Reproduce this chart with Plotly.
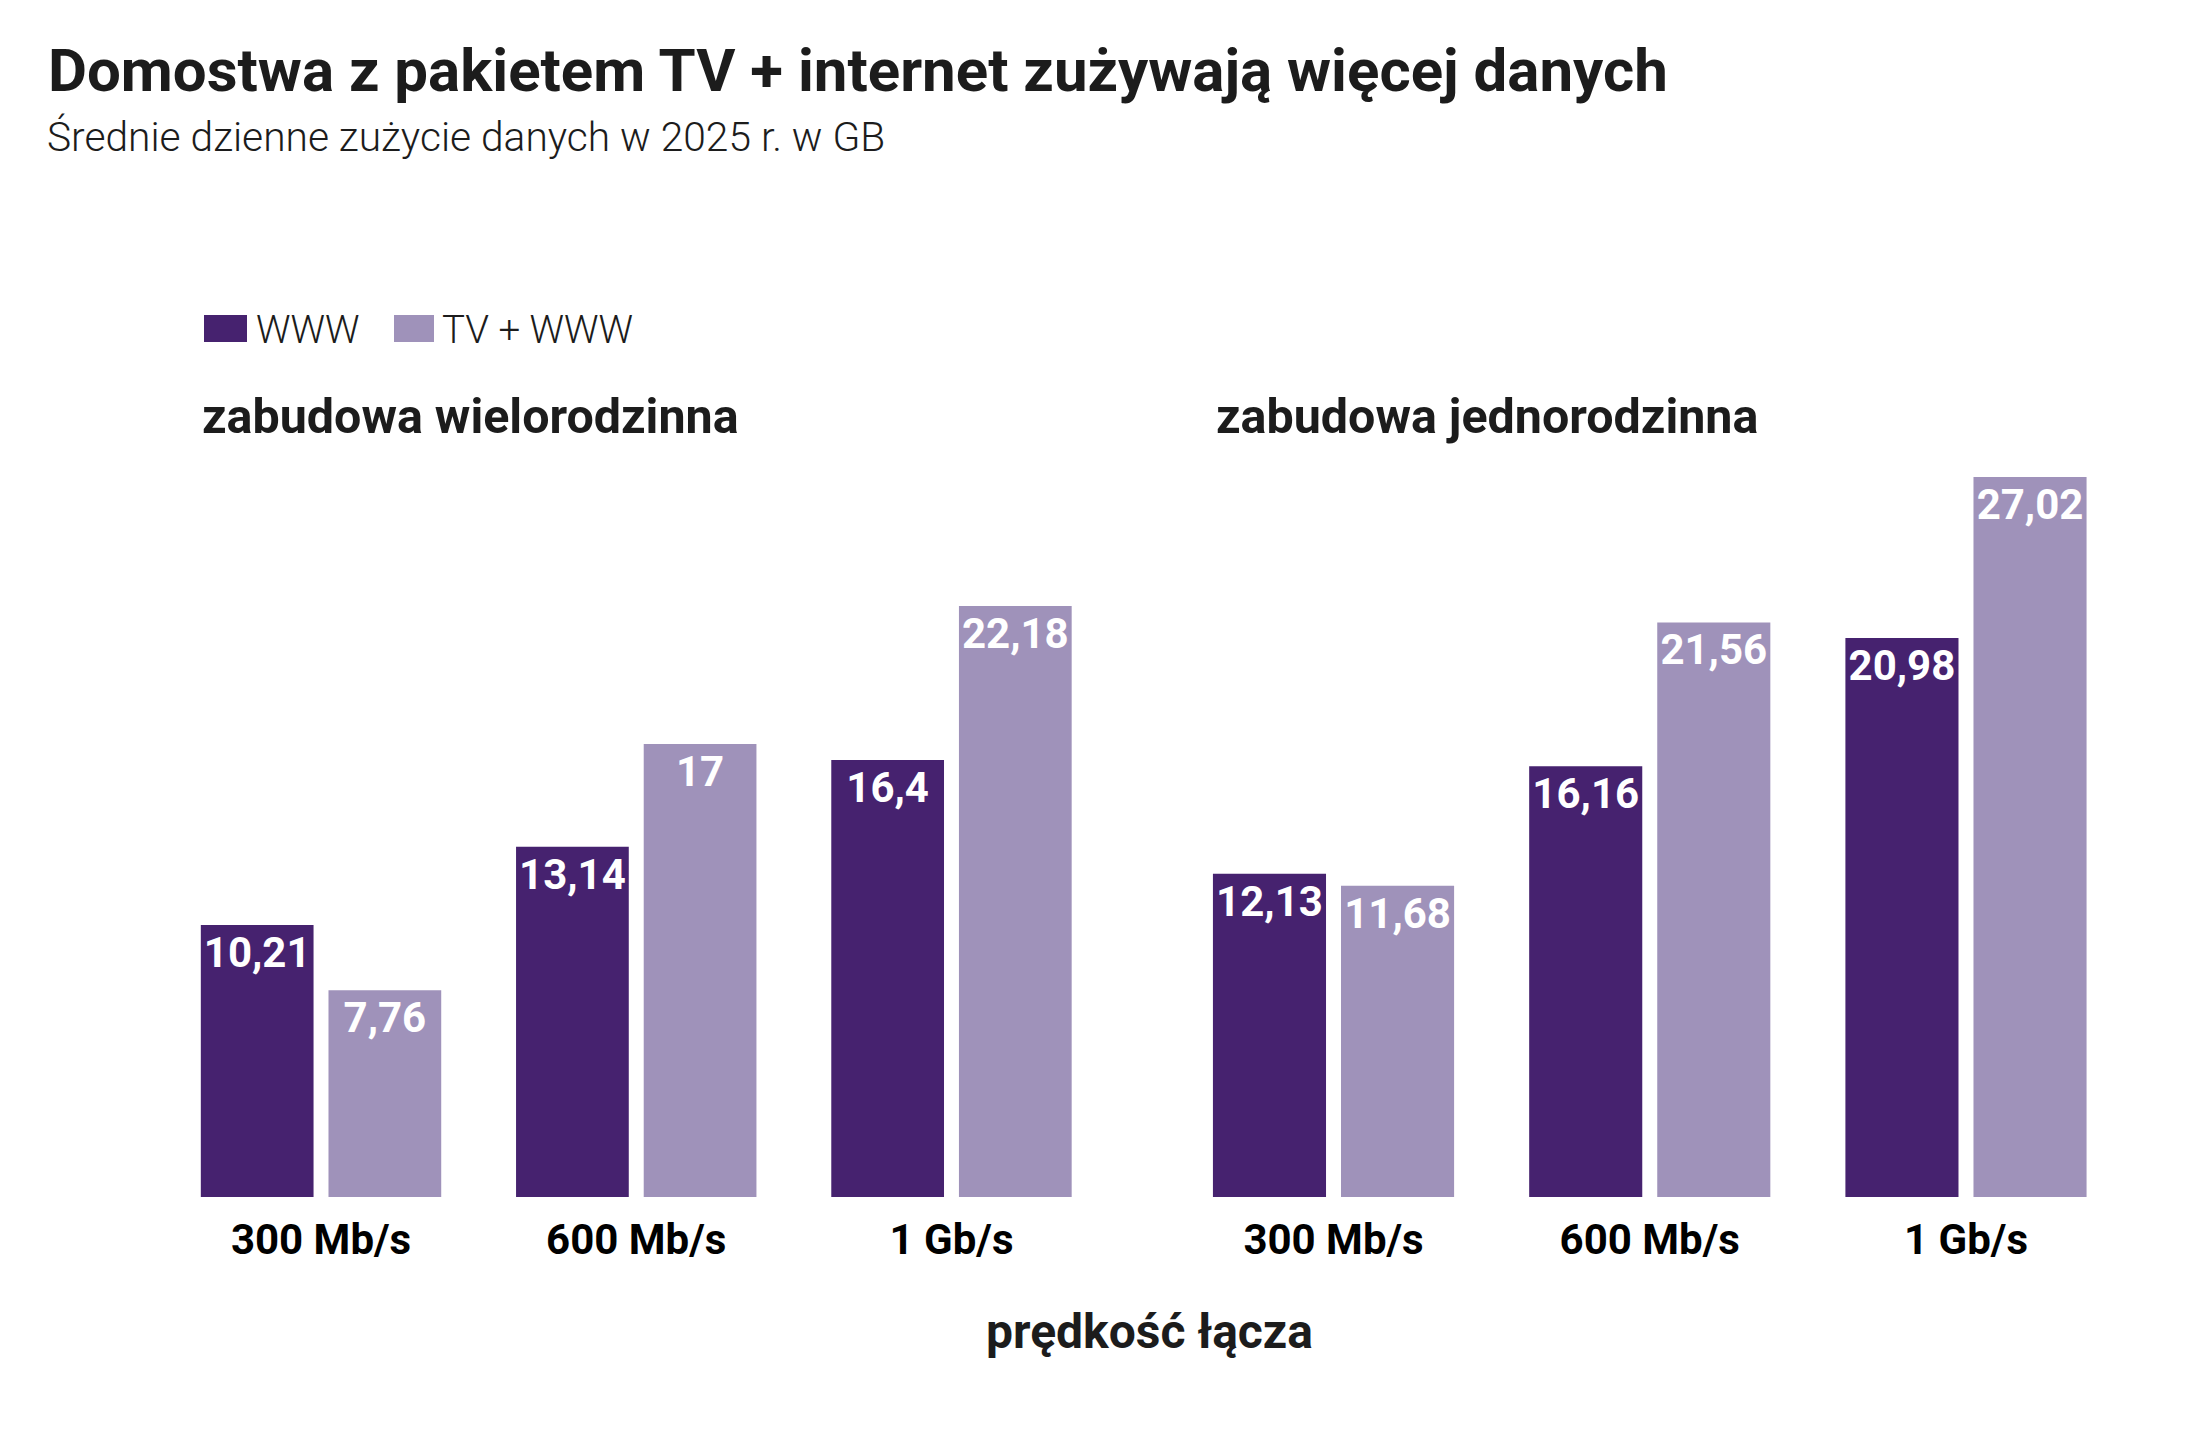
import plotly.graph_objects as go

# ---- data ----
categories = ["300 Mb/s", "600 Mb/s", "1 Gb/s"]
multi_www = [10.21, 13.14, 16.4]
multi_tv_www = [7.76, 17, 22.18]
single_www = [12.13, 16.16, 20.98]
single_tv_www = [11.68, 21.56, 27.02]
series_names = ["WWW", "TV + WWW"]
panel_titles = ["zabudowa wielorodzinna", "zabudowa jednorodzinna"]
title = "Domostwa z pakietem TV + internet zużywają więcej danych"
subtitle = "Średnie dzienne zużycie danych w 2025 r. w GB"
axis_title = "prędkość łącza"

W, H = 2194, 1436
DARK = "#46226F"
LIGHT = "#9F92BA"
TXT = "#1c1c1c"
FONT = "Roboto"


def fmt(v):
    return f"{v:g}".replace(".", ",")


def px_x(p):
    return p / W


def px_y(p):
    return 1 - p / H


fig = go.Figure()
for xa, ya, vals_a, vals_b in [("x", "y", multi_www, multi_tv_www),
                               ("x2", "y2", single_www, single_tv_www)]:
    for name, vals, col in [(series_names[0], vals_a, DARK), (series_names[1], vals_b, LIGHT)]:
        fig.add_trace(go.Bar(
            x=categories, y=vals, name=name, xaxis=xa, yaxis=ya,
            marker=dict(color=col, line=dict(width=0)),
            text=[fmt(v) for v in vals],
            textposition="inside", insidetextanchor="end",
            constraintext="none", textangle=0,
            textfont=dict(family=FONT, size=42, color="white", weight=700),
            showlegend=False, hoverinfo="skip",
        ))

ydom = [px_y(1197), px_y(1197 - 30 * 26.65)]
axis_common = dict(type="category", showgrid=False, zeroline=False, showline=False,
                   ticks="", ticklabelstandoff=14,
                   tickfont=dict(family=FONT, size=42, color="black", weight=700),
                   fixedrange=True, range=[-0.5, 2.5])
yaxis_common = dict(range=[0, 30], domain=ydom, visible=False, showgrid=False, fixedrange=True)

fig.update_layout(
    width=W, height=H,
    margin=dict(l=0, r=0, t=0, b=0),
    paper_bgcolor="white", plot_bgcolor="white",
    barmode="group", bargap=0.19, bargroupgap=0.117,
    font=dict(family=FONT, color=TXT),
    xaxis=dict(domain=[px_x(163.4), px_x(1109.1)], anchor="y", **axis_common),
    xaxis2=dict(domain=[px_x(1175.4), px_x(2124.1)], anchor="y2", **axis_common),
    yaxis=dict(anchor="x", **yaxis_common),
    yaxis2=dict(anchor="x2", **yaxis_common),
    showlegend=False,
)

annotations = [
    dict(text=title, x=px_x(46), y=px_y(70), xanchor="left", yanchor="middle",
         font=dict(family=FONT, size=60, color=TXT, weight=700)),
    dict(text=subtitle, x=px_x(45), y=px_y(137), xanchor="left", yanchor="middle",
         font=dict(family=FONT, size=40.7, color=TXT, weight=300)),
    dict(text=panel_titles[0], x=px_x(200), y=px_y(416), xanchor="left", yanchor="middle",
         font=dict(family=FONT, size=48.4, color=TXT, weight=700)),
    dict(text=panel_titles[1], x=px_x(1214), y=px_y(416), xanchor="left", yanchor="middle",
         font=dict(family=FONT, size=48.4, color=TXT, weight=700)),
    dict(text=axis_title, x=px_x(1149), y=px_y(1331), xanchor="center", yanchor="middle",
         font=dict(family=FONT, size=48, color=TXT, weight=700)),
    dict(text=series_names[0], x=px_x(254), y=px_y(329), xanchor="left", yanchor="middle",
         font=dict(family=FONT, size=38.5, color=TXT, weight=300)),
    dict(text=series_names[1], x=px_x(440), y=px_y(329), xanchor="left", yanchor="middle",
         font=dict(family=FONT, size=38.5, color=TXT, weight=300)),
]
for a in annotations:
    a.update(xref="paper", yref="paper", showarrow=False)
fig.update_layout(annotations=annotations)

shapes = [
    dict(type="rect", xref="paper", yref="paper", x0=px_x(204), x1=px_x(247),
         y0=px_y(342), y1=px_y(315), fillcolor=DARK, line=dict(width=0)),
    dict(type="rect", xref="paper", yref="paper", x0=px_x(394), x1=px_x(434),
         y0=px_y(342), y1=px_y(315), fillcolor=LIGHT, line=dict(width=0)),
]
fig.update_layout(shapes=shapes)

fig.write_html("out.html", config={"displayModeBar": False})
